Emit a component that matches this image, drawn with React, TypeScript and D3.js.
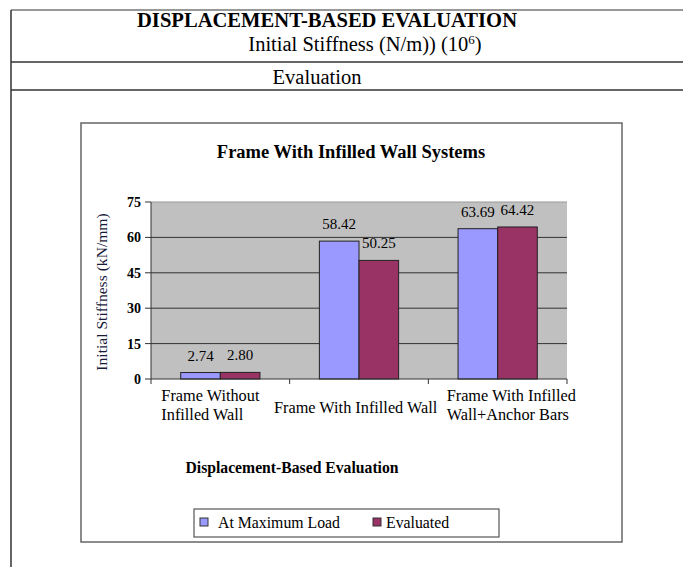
import React from "react";
import * as d3 from "d3";

const categories = [
  ["Frame Without", "Infilled Wall"],
  ["Frame With Infilled Wall"],
  ["Frame With Infilled", "Wall+Anchor Bars"],
];
const seriesNames = ["At Maximum Load", "Evaluated"];
const atMaxLoad = [2.74, 58.42, 63.69];
const evaluated = [2.8, 50.25, 64.42];
const yTicks = [0, 15, 30, 45, 60, 75];
const colors = ["#9999FF", "#993366"];

const W = 683;
const H = 567;
const serif = "'Liberation Serif', 'Times New Roman', serif";
// left offset of each category label block relative to its band centre
const labelOffsets = [-59, -85, -51];

export default function App() {
  const plot = { left: 151, right: 567, top: 202, bottom: 379 };
  const x = d3
    .scaleBand<number>()
    .domain(categories.map((_, i) => i))
    .range([plot.left, plot.right])
    .paddingInner(0)
    .paddingOuter(0);
  const y = d3.scaleLinear().domain([0, 75]).range([plot.bottom, plot.top]);
  const bw = x.bandwidth() / 3.5;
  const series = [atMaxLoad, evaluated];

  return (
    <svg
      width={W}
      height={H}
      style={{ position: "absolute", left: 0, top: 0, background: "#fff" }}
      fontFamily={serif}
    >
      {/* table lines */}
      <line x1={11} x2={W} y1={10} y2={10} stroke="#333" strokeWidth={1} />
      <line x1={11} x2={W} y1={62} y2={62} stroke="#333" strokeWidth={1.5} />
      <line x1={11} x2={W} y1={90} y2={90} stroke="#333" strokeWidth={1.5} />
      <line x1={11} x2={11} y1={10} y2={H} stroke="#333" strokeWidth={1.5} />
      <text x={327} y={27} textAnchor="middle" fontSize={21} fontWeight="bold" fill="#000" textLength={380} lengthAdjust="spacingAndGlyphs">
        DISPLACEMENT-BASED EVALUATION
      </text>
      <text x={365} y={51} textAnchor="middle" fontSize={20.5} fill="#000">
        Initial Stiffness (N/m)) (10
        <tspan fontSize={13} dy={-7}>6</tspan>
        <tspan dy={7}>)</tspan>
      </text>
      <text x={317} y={84} textAnchor="middle" fontSize={20.5} fill="#000">
        Evaluation
      </text>

      {/* chart box */}
      <rect x={81} y={123} width={541} height={419} fill="#fff" stroke="#666" strokeWidth={1.5} />
      <text x={351} y={158} textAnchor="middle" fontSize={18.5} fontWeight="bold" fill="#000">
        Frame With Infilled Wall Systems
      </text>

      {/* plot area */}
      <rect
        x={plot.left}
        y={plot.top}
        width={plot.right - plot.left}
        height={plot.bottom - plot.top}
        fill="#C0C0C0"
      />
      <line x1={plot.left} x2={plot.right} y1={plot.top} y2={plot.top} stroke="#999" strokeWidth={1} />
      {yTicks
        .filter((t) => t > 0 && t < 75)
        .map((t) => (
          <line key={t} x1={plot.left} x2={plot.right} y1={y(t)} y2={y(t)} stroke="#333" strokeWidth={1} />
        ))}

      {/* bars */}
      {series.map((vals, s) =>
        vals.map((v, i) => {
          const bx = (x(i) as number) + bw * 0.75 + s * bw;
          return (
            <g key={`${s}-${i}`}>
              <rect x={bx} y={y(v)} width={bw} height={y(0) - y(v)} fill={colors[s]} stroke="#222" strokeWidth={1} />
              <text x={bx + bw / 2} y={y(v) - 12} textAnchor="middle" fontSize={15} fill="#000">
                {v.toFixed(2)}
              </text>
            </g>
          );
        })
      )}

      {/* axes */}
      <line x1={plot.left} x2={plot.left} y1={plot.top} y2={plot.bottom} stroke="#333" strokeWidth={1} />
      <line x1={plot.left} x2={plot.right} y1={plot.bottom} y2={plot.bottom} stroke="#333" strokeWidth={1.2} />
      {yTicks.map((t) => (
        <g key={t}>
          <line x1={plot.left - 6} x2={plot.left} y1={y(t)} y2={y(t)} stroke="#333" />
          <text x={plot.left - 10} y={y(t) + 5} textAnchor="end" fontSize={14} fontWeight="bold" fill="#000">
            {t}
          </text>
        </g>
      ))}
      {d3.range(categories.length + 1).map((i) => {
        const tx = i < categories.length ? (x(i) as number) : plot.right;
        return <line key={i} x1={tx} x2={tx} y1={plot.bottom} y2={plot.bottom + 5} stroke="#333" />;
      })}
      {categories.map((lines, i) => {
        const lx = (x(i) as number) + x.bandwidth() / 2 + labelOffsets[i];
        const y0 = lines.length === 1 ? 413 : 401;
        return (
          <text key={i} x={lx} y={y0} textAnchor="start" fontSize={16.3} fill="#000">
            {lines.map((l, k) => (
              <tspan key={k} x={lx} dy={k === 0 ? 0 : 19}>
                {l}
              </tspan>
            ))}
          </text>
        );
      })}

      {/* y axis title */}
      <text
        transform={`translate(107, ${292}) rotate(-90)`}
        textAnchor="middle"
        fontSize={15.6}
        fill="#1a1a3a"
      >
        Initial Stiffness  (kN/mm)
      </text>

      {/* x axis title */}
      <text x={292} y={473} textAnchor="middle" fontSize={15.7} fontWeight="bold" fill="#000">
        Displacement-Based Evaluation
      </text>

      {/* legend */}
      <rect x={194} y={509} width={305} height={28} fill="#fff" stroke="#555" strokeWidth={1.2} />
      {seriesNames.map((name, s) => {
        const lx = s === 0 ? 200 : 373;
        return (
          <g key={name}>
            <rect x={lx} y={518} width={8} height={8} fill={colors[s]} stroke="#333" />
            <text x={lx + (s === 0 ? 18 : 13)} y={528} fontSize={15.8} fill="#000">
              {name}
            </text>
          </g>
        );
      })}
    </svg>
  );
}
